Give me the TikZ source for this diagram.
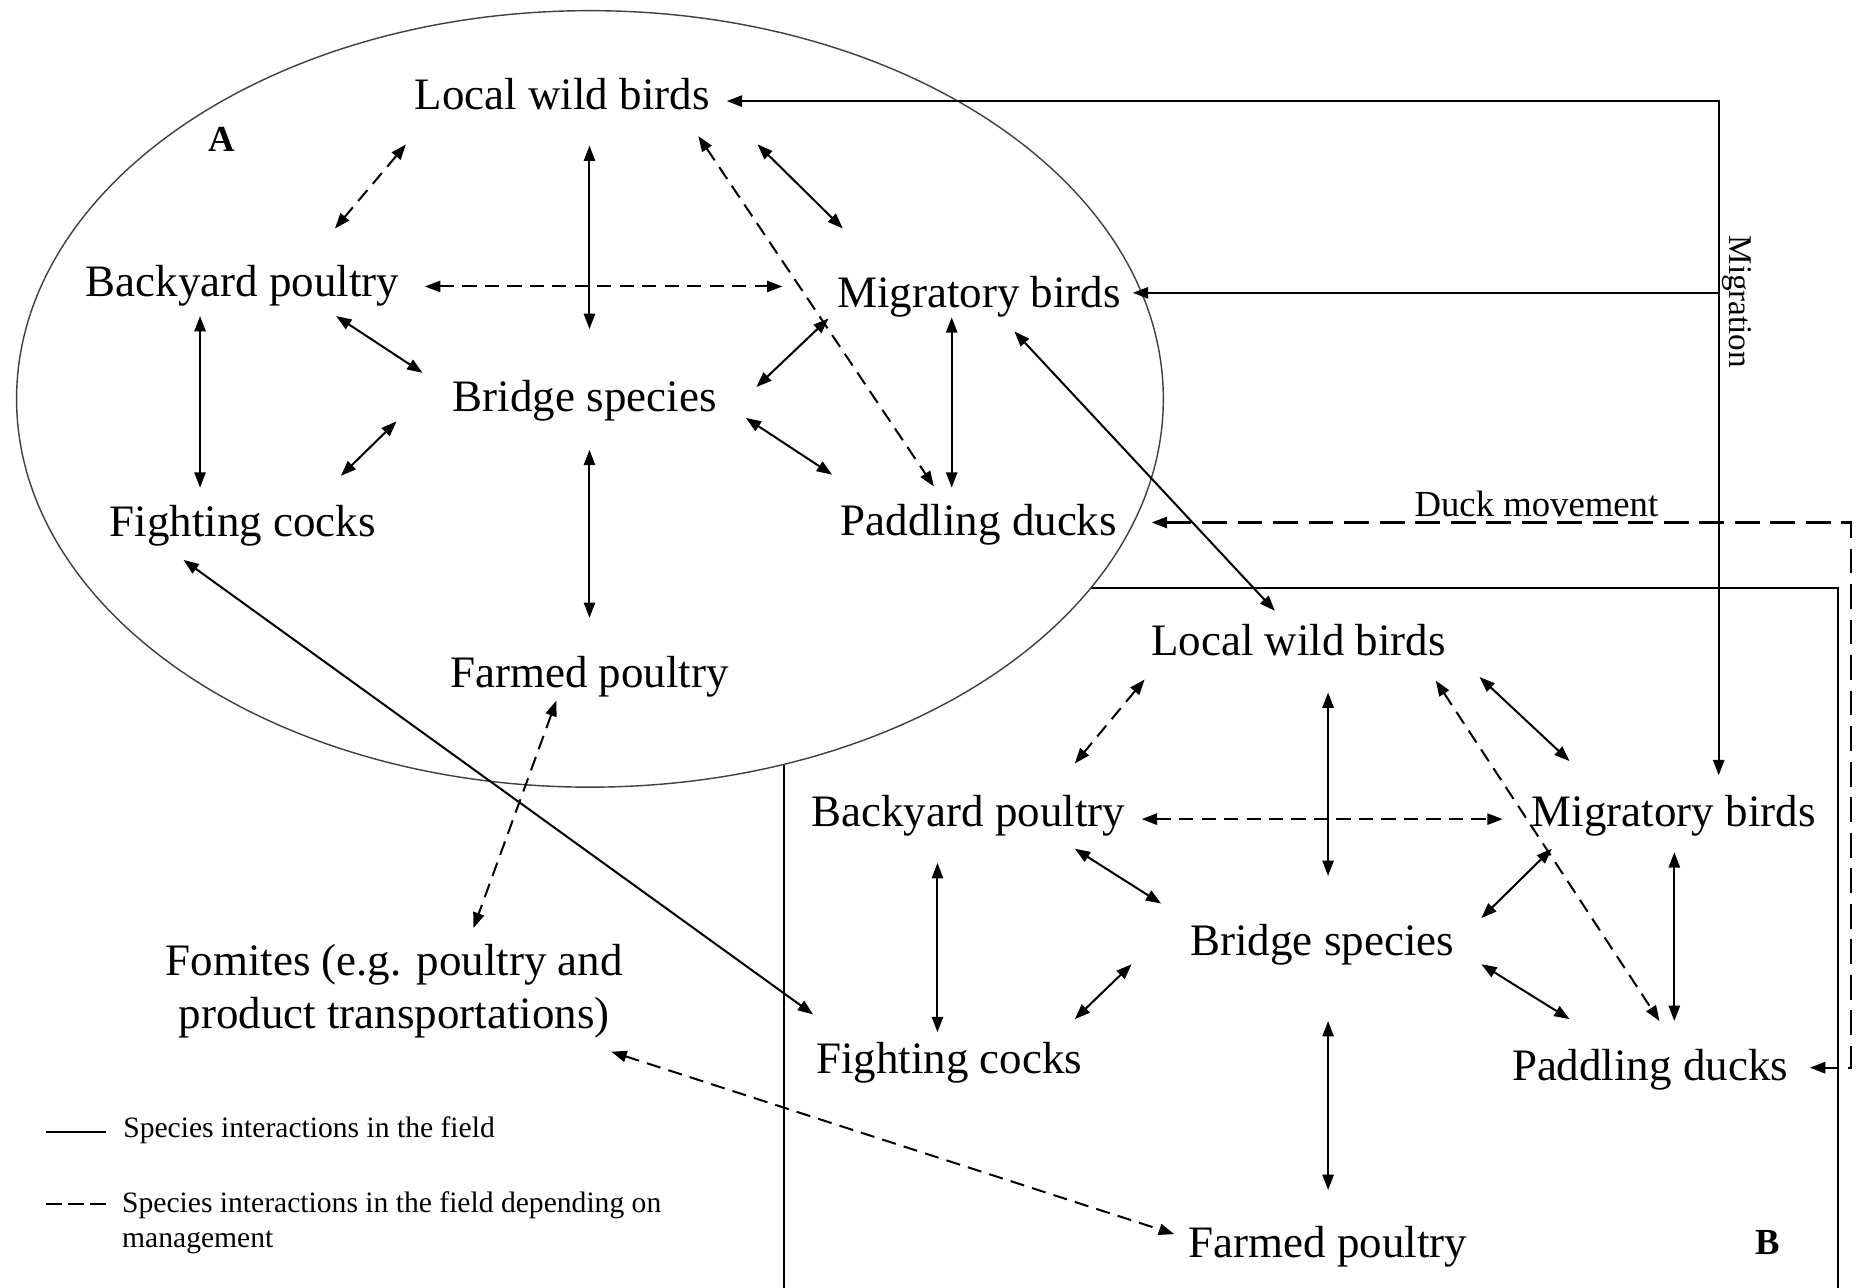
\documentclass[tikz,border=0pt]{standalone}
\usepackage{fontspec}
\setmainfont{Liberation Serif}
\usetikzlibrary{arrows.meta,calc}
\begin{document}
\begin{tikzpicture}[x=1pt,y=-1pt,
  >={Triangle[length=13pt,width=9.5pt]},
  lbl/.style={font=\fontsize{38}{45}\selectfont, inner sep=0pt, text height=25pt, text depth=0pt},
  panel/.style={font=\fontsize{31}{36}\selectfont\bfseries, inner sep=0pt, text height=20pt, text depth=0pt},
  sarr/.style={line width=1.7pt, <->},
  darr/.style={line width=1.7pt, <->, dash pattern=on 12pt off 7pt},
  frame/.style={line width=1.6pt},
  legtxt/.style={font=\fontsize{25}{29.5}\selectfont, inner sep=0pt}
]
\useasboundingbox (0,0) rectangle (1568,1088);
% box B
\draw[frame] (662,1095) -- (662,496.7) -- (1553,496.7) -- (1553,1095);
% ellipse A
\draw[line width=1.2pt, draw=black!75, fill=white] (498.4,337) ellipse [x radius=484.4, y radius=328];

% nodes A
\node[lbl] (lwbA) at (475,80) {Local wild birds};
\node[lbl] (bpA) at (205,238) {Backyard poultry};
\node[lbl] (mbA) at (827,247) {Migratory birds};
\node[lbl] (brA) at (494,335) {Bridge species};
\node[lbl] (fcA) at (205,441) {Fighting cocks};
\node[lbl] (pdA) at (827,440) {Paddling ducks};
\node[lbl] (fpA) at (498,568) {Farmed poultry};
\node[panel] (labA) at (187,118) {A};
% fomites
\node[font=\fontsize{38}{44.7}\selectfont, inner sep=0pt, align=center, anchor=north] (fom) at (333,797.7) {Fomites (e.g. poultry and\\product transportations)};
% nodes B
\node[lbl] (lwbB) at (1097,541) {Local wild birds};
\node[lbl] (bpB) at (818,686) {Backyard poultry};
\node[lbl] (mbB) at (1414,686) {Migratory birds};
\node[lbl] (brB) at (1117,795) {Bridge species};
\node[lbl] (fcB) at (802,894) {Fighting cocks};
\node[lbl] (pdB) at (1394,900) {Paddling ducks};
\node[lbl] (fpB) at (1122,1050) {Farmed poultry};
\node[panel] (labB) at (1493,1050) {B};

% connectors A
\draw[darr] ($(lwbA)+(-132,42)$) -- ($(bpA)+(78,-45)$);
\draw[sarr] ($(lwbA)+(23,43)$) -- ($(brA)+(4,-57)$);
\draw[darr] ($(lwbA)+(115,35)$) -- ($(pdA)+(-38,-29)$);
\draw[sarr] ($(lwbA)+(165,42)$) -- ($(mbA)+(-115,-54)$);
\draw[darr] ($(bpA)+(154,4)$) -- ($(mbA)+(-166,-5)$);
\draw[sarr] ($(bpA)+(79,29)$) -- ($(brA)+(-137,-20)$);
\draw[sarr] ($(mbA)+(-127,22)$) -- ($(brA)+(145,-8)$);
\draw[sarr] ($(mbA)+(-23,21)$) -- ($(pdA)+(-23,-28)$);
\draw[sarr] ($(bpA)+(-36,29)$) -- ($(fcA)+(-36,-29)$);
\draw[sarr] ($(brA)+(-159,21)$) -- ($(fcA)+(83,-39)$);
\draw[sarr] ($(brA)+(136,18)$) -- ($(pdA)+(-124,-39)$);
\draw[sarr] ($(brA)+(4,45)$) -- ($(fpA)+(0,-46)$);
\draw[darr] ($(fpA)+(-28,24)$) -- ($(fom.north)+(67,-13.7)$);
% between A and B
\draw[sarr] ($(fcA)+(-50,32)$) -- ($(fcB)+(-115,-37)$);
\draw[sarr] ($(mbA)+(30,33)$) -- ($(lwbB)+(-20,-25)$);
\draw[darr] ($(fom.north)+(183.5,90.8)$) -- ($(fpB)+(-130,-7.4)$);

% connectors B
\draw[darr] ($(lwbB)+(-130,33)$) -- ($(bpB)+(90,-41)$);
\draw[sarr] ($(lwbB)+(25,44)$) -- ($(brB)+(5,-55)$);
\draw[darr] ($(lwbB)+(116,34)$) -- ($(pdB)+(8,-37.4)$);
\draw[sarr] ($(lwbB)+(153,31)$) -- ($(mbB)+(-88,-43)$);
\draw[darr] ($(bpB)+(146.5,6)$) -- ($(mbB)+(-144.5,6)$);
\draw[sarr] ($(bpB)+(90,31)$) -- ($(brB)+(-136,-31.6)$);
\draw[sarr] ($(mbB)+(-103,31)$) -- ($(brB)+(134.5,-19.4)$);
\draw[sarr] ($(mbB)+(0.5,34)$) -- ($(pdB)+(20.5,-37.4)$);
\draw[sarr] ($(bpB)+(-26,43)$) -- ($(fcB)+(-10,-22)$);
\draw[sarr] ($(brB)+(-161,19.6)$) -- ($(fcB)+(106,-33)$);
\draw[sarr] ($(brB)+(134.5,19.6)$) -- ($(pdB)+(-68,-39)$);
\draw[sarr] ($(brB)+(5,67.6)$) -- ($(fpB)+(0,-44.6)$);

% migration
\coordinate (migc) at (1452,85.4);
\coordinate (migm) at (1452,247.4);
\draw[sarr] ($(lwbA)+(139,5.4)$) -- (migc) -- ($(mbB)+(38,-31)$);
\draw[line width=1.7pt, ->] (migm) -- ($(mbA)+(130,0.4)$);
\node[font=\fontsize{28}{32}\selectfont, inner sep=0pt, text height=18.5pt, text depth=0pt, rotate=-90] (migl) at (1470,255) {Migration};

% duck movement
\coordinate (duck1) at (1563.5,441.4);
\coordinate (duck2) at (1563.5,902);
\draw[line width=1.8pt, <->, dash pattern=on 21pt off 9pt] ($(pdA)+(146,1.4)$) -- (duck1) -- (duck2) -- ($(pdB)+(135,2)$);
\node[font=\fontsize{31}{36}\selectfont, inner sep=0pt, text height=20.5pt, text depth=0pt] (duckl) at (1298,426) {Duck movement};

% legend
\coordinate (lg1a) at (38.7,956);
\coordinate (lg1b) at (89.6,956);
\coordinate (lg2a) at (38.7,1017);
\coordinate (lg2b) at (89.6,1017);
\draw[line width=1.6pt] (lg1a) -- (lg1b);
\draw[line width=1.6pt, dash pattern=on 13.6pt off 4.9pt] (lg2a) -- (lg2b);
\node[legtxt, anchor=base west] (leg1) at (104,960.8) {Species interactions in the field};
\node[legtxt, anchor=north west, align=left] (leg2) at (103,1006.5) {Species interactions in the field depending on\\management};
\end{tikzpicture}
\end{document}
